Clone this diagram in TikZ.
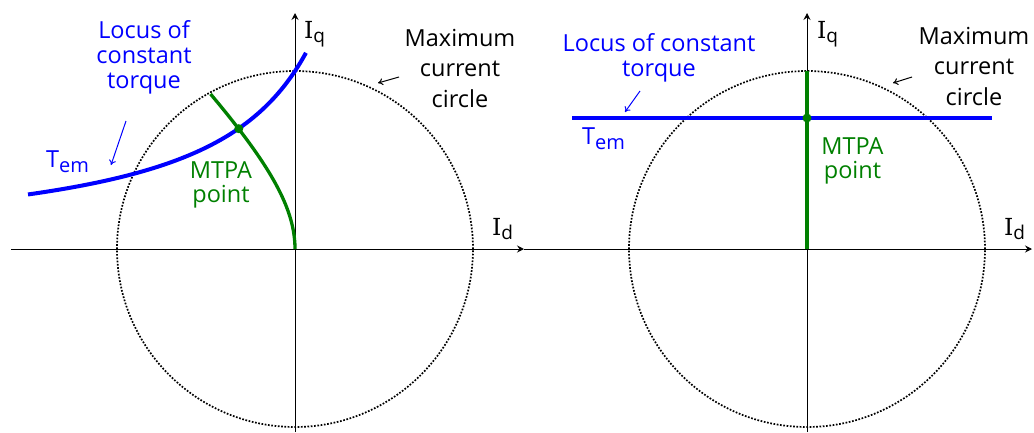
\documentclass[tikz,border=0pt]{standalone}
\usepackage{fontspec}
\setmainfont{Open Sans}
\newfontfamily\serifI{DejaVu Serif}
\usetikzlibrary{arrows.meta}
\definecolor{tblue}{RGB}{0,0,255}
\definecolor{tgreen}{RGB}{0,128,0}
\newcommand{\Isub}[1]{{\serifI I}\lower4pt\hbox{\fontsize{19}{19}\selectfont #1}}
\newcommand{\Tem}{T\lower5pt\hbox{\fontsize{20}{20}\selectfont em}}
\tikzset{
  axis/.style={line width=1pt, -{Stealth[length=7pt,width=7pt,inset=2.5pt]}},
  circ/.style={line width=1.7pt, dash pattern=on 1.7pt off 1.6pt},
  tem/.style={tblue, line width=4pt},
  mtpa/.style={tgreen, line width=3.3pt},
  lbl/.style={inner sep=0pt, align=center},
  pointer/.style={line width=1pt, -{To[length=5pt,width=7pt]}},
  mdot/.style={tgreen, fill=tgreen, circle, inner sep=0pt, minimum size=9pt},
}
\begin{document}
\begin{tikzpicture}[x=1pt,y=-1pt]
\useasboundingbox (0,0) rectangle (1034,432);
% ---------- left panel ----------
\coordinate (O1) at (295,249);
\coordinate (xl0) at (11,249);
\coordinate (xl1) at (524,249);
\coordinate (yl0) at (295,432);
\coordinate (yl1) at (295,13);
\draw[axis] (xl0) -- (xl1);
\draw[axis] (yl0) -- (yl1);
\draw[circ] (O1) circle[radius=178pt];
\draw[tem] plot[domain=-2.67:0.11, samples=100] ({295+100*\x}, {249-210/(1.18-\x)});
\draw[mtpa] plot[domain=0:15.5, samples=60] ({295+10*(10-sqrt(100+\x*\x))}, {249-10*\x});
\node[mdot] (m1) at (238.8,128.7) {};
\node[lbl, tblue, anchor=north, font=\fontsize{23.5}{25}\selectfont] (loc1) at (144,20) {Locus of\\constant\\torque};
\node[lbl, black, anchor=north, font=\fontsize{23.5}{30.5}\selectfont] (max1) at (460,29) {Maximum\\current\\circle};
\node[lbl, tgreen, anchor=north, font=\fontsize{23.5}{24}\selectfont] (mt1) at (221,161) {MTPA\\point};
\node[lbl, tblue, anchor=base west, font=\fontsize{23.5}{25}\selectfont] (t1) at (46,167) {\Tem};
\node[lbl, anchor=base west, font=\fontsize{23.5}{25}\selectfont] (iq1) at (304,38) {\Isub{q}};
\node[lbl, anchor=base west, font=\fontsize{23.5}{25}\selectfont] (id1) at (492,235) {\Isub{d}};
\coordinate (pa1) at (126,121);
\coordinate (pb1) at (111,165);
\draw[pointer, tblue] (pa1) -- (pb1);
\coordinate (pc1) at (399,77);
\coordinate (pd1) at (378,83);
\draw[pointer] (pc1) -- (pd1);
% ---------- right panel ----------
\coordinate (O2) at (807,249);
\coordinate (xr0) at (524,249);
\coordinate (xr1) at (1032,249);
\coordinate (yr0) at (807,432);
\coordinate (yr1) at (807,13);
\draw[axis] (xr0) -- (xr1);
\draw[axis] (yr0) -- (yr1);
\draw[circ] (O2) circle[radius=178pt];
\coordinate (ta) at (572,118);
\coordinate (tb) at (992,118);
\draw[tem] (ta) -- (tb);
\coordinate (ga) at (807,71);
\draw[mtpa] (ga) -- (O2);
\node[mdot] (m2) at (807,118) {};
\node[lbl, tblue, anchor=north, font=\fontsize{23.5}{25}\selectfont] (loc2) at (659,33) {Locus of constant\\torque};
\node[lbl, black, anchor=north, font=\fontsize{23.5}{30.5}\selectfont] (max2) at (974,27) {Maximum\\current\\circle};
\node[lbl, tgreen, anchor=north, font=\fontsize{23.5}{24}\selectfont] (mt2) at (852.5,137) {MTPA\\point};
\node[lbl, tblue, anchor=base west, font=\fontsize{23.5}{25}\selectfont] (t2) at (582,144) {\Tem};
\node[lbl, anchor=base west, font=\fontsize{23.5}{25}\selectfont] (iq2) at (817,38) {\Isub{q}};
\node[lbl, anchor=base west, font=\fontsize{23.5}{25}\selectfont] (id2) at (1004,235) {\Isub{d}};
\coordinate (pa2) at (640,91);
\coordinate (pb2) at (625,112);
\draw[pointer, tblue] (pa2) -- (pb2);
\coordinate (pc2) at (912,77);
\coordinate (pd2) at (893,83);
\draw[pointer] (pc2) -- (pd2);
\end{tikzpicture}
\end{document}
